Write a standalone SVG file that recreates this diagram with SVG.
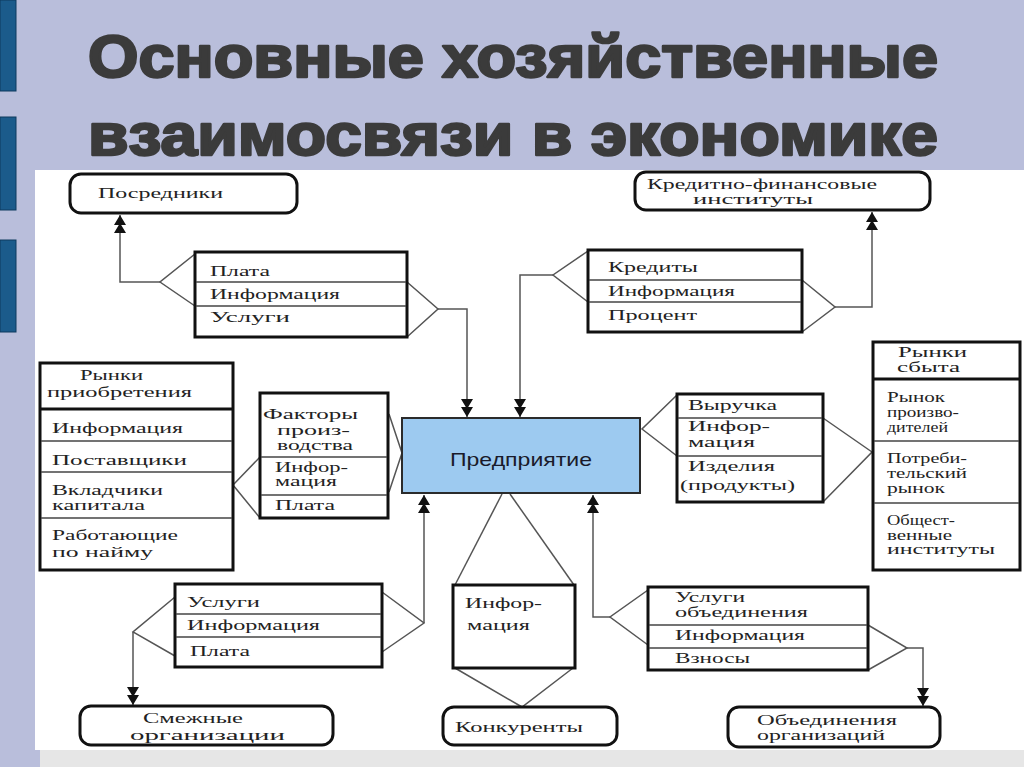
<svg xmlns="http://www.w3.org/2000/svg" width="1024" height="767" viewBox="0 0 1024 767">
<style>
.t{font-family:"Liberation Serif","DejaVu Serif",serif;font-size:15px;fill:#222;}
.tbl{fill:#fff;stroke:#111;stroke-width:3;}
.rnd{fill:#fff;stroke:#111;stroke-width:3;}
.row{stroke:#444;stroke-width:1.5;fill:none;}
.hdr{stroke:#111;stroke-width:3;fill:none;}
.c{stroke:#555;stroke-width:1.5;fill:none;}
.title{font-family:"Liberation Sans","Arial",sans-serif;font-weight:bold;font-size:60px;fill:#3b3b3b;stroke:#3b3b3b;stroke-width:2.5;stroke-linejoin:round;}
</style>
<defs>
<marker id="arr" markerUnits="userSpaceOnUse" markerWidth="20" markerHeight="14" refX="18" refY="7" orient="auto">
<path d="M0,1 L10,7 L0,13 Z M8,1 L18,7 L8,13 Z" fill="#111"/>
</marker>
</defs>
<rect x="0" y="0" width="1024" height="767" fill="#b9bedb"/>
<rect x="0" y="0" width="16" height="91" fill="#1b5b8b" stroke="#0e3a5e" stroke-width="1"/>
<rect x="0" y="117" width="16" height="93" fill="#1b5b8b" stroke="#0e3a5e" stroke-width="1"/>
<rect x="0" y="240" width="16" height="92" fill="#1b5b8b" stroke="#0e3a5e" stroke-width="1"/>
<rect x="35" y="170" width="989" height="580" fill="#fff"/>
<rect x="40" y="750" width="984" height="17" fill="#e6e6e6"/>
<g id="title">
<text class="title" x="88" y="77" textLength="850" lengthAdjust="spacingAndGlyphs">Основные хозяйственные</text>
<text class="title" x="88" y="155" textLength="850" lengthAdjust="spacingAndGlyphs">взаимосвязи в экономике</text>
</g>
<g id="connectors">
<polyline class="c" points="195,254 160,282 195,306"/>
<path class="c" d="M160,282 H120 V215" marker-end="url(#arr)"/>
<polyline class="c" points="407,282 438,309 407,337"/>
<path class="c" d="M438,309 H467 V417" marker-end="url(#arr)"/>
<polyline class="c" points="588,251 553,275 588,302"/>
<path class="c" d="M553,275 H520 V417" marker-end="url(#arr)"/>
<polyline class="c" points="802,280 835,307 802,332"/>
<path class="c" d="M835,307 H872 V212" marker-end="url(#arr)"/>
<polyline class="c" points="260,457 233,485 260,518"/>
<polyline class="c" points="389,414 402,453 389,492"/>
<polyline class="c" points="677,395 642,429 677,456"/>
<polyline class="c" points="823,418 872,452 823,502"/>
<polyline class="c" points="175,597 133,632 175,656"/>
<path class="c" d="M133,632 V705" marker-end="url(#arr)"/>
<polyline class="c" points="382,592 424,623 382,652"/>
<path class="c" d="M424,623 V495" marker-end="url(#arr)"/>
<line class="c" x1="502" y1="494" x2="455" y2="585"/>
<line class="c" x1="510" y1="494" x2="574" y2="585"/>
<polyline class="c" points="455,668 522,707 573,668"/>
<polyline class="c" points="648,590 610,617 648,645"/>
<path class="c" d="M610,617 H593 V495" marker-end="url(#arr)"/>
<polyline class="c" points="868,625 907,648 868,670"/>
<path class="c" d="M907,648 H923 V706" marker-end="url(#arr)"/>
</g>
<g id="posredniki">
<rect class="rnd" x="70" y="174" width="227" height="39" rx="11"/>
<text class="t" x="98" y="198" textLength="125" lengthAdjust="spacingAndGlyphs">Посредники</text>
</g>
<g id="kredit-inst">
<rect class="rnd" x="635" y="172" width="295" height="38" rx="11"/>
<text class="t" x="647" y="189" textLength="230" lengthAdjust="spacingAndGlyphs">Кредитно-финансовые</text>
<text class="t" x="693" y="204" textLength="120" lengthAdjust="spacingAndGlyphs">институты</text>
</g>
<g id="tbl-plata">
<rect class="tbl" x="195" y="252" width="212" height="85"/>
<line class="row" x1="196" y1="282" x2="406" y2="282"/>
<line class="row" x1="196" y1="306" x2="406" y2="306"/>
<text class="t" x="210" y="276" textLength="60" lengthAdjust="spacingAndGlyphs">Плата</text>
<text class="t" x="210" y="299" textLength="130" lengthAdjust="spacingAndGlyphs">Информация</text>
<text class="t" x="210" y="322" textLength="80" lengthAdjust="spacingAndGlyphs">Услуги</text>
</g>
<g id="tbl-kredity">
<rect class="tbl" x="588" y="250" width="214" height="82"/>
<line class="row" x1="589" y1="280" x2="801" y2="280"/>
<line class="row" x1="589" y1="302" x2="801" y2="302"/>
<text class="t" x="608" y="272" textLength="90" lengthAdjust="spacingAndGlyphs">Кредиты</text>
<text class="t" x="608" y="296" textLength="127" lengthAdjust="spacingAndGlyphs">Информация</text>
<text class="t" x="608" y="320" textLength="89" lengthAdjust="spacingAndGlyphs">Процент</text>
</g>
<g id="rynki-priobr">
<rect class="tbl" x="40" y="363" width="193" height="207"/>
<line class="hdr" x1="40" y1="409" x2="233" y2="409"/>
<line class="row" x1="41" y1="441" x2="232" y2="441"/>
<line class="row" x1="41" y1="472" x2="232" y2="472"/>
<line class="row" x1="41" y1="518" x2="232" y2="518"/>
<text class="t" x="80" y="380" textLength="63" lengthAdjust="spacingAndGlyphs">Рынки</text>
<text class="t" x="47" y="397" textLength="145" lengthAdjust="spacingAndGlyphs">приобретения</text>
<text class="t" x="52" y="433" textLength="131" lengthAdjust="spacingAndGlyphs">Информация</text>
<text class="t" x="52" y="465" textLength="135" lengthAdjust="spacingAndGlyphs">Поставщики</text>
<text class="t" x="52" y="495" textLength="111" lengthAdjust="spacingAndGlyphs">Вкладчики</text>
<text class="t" x="52" y="510" textLength="93" lengthAdjust="spacingAndGlyphs">капитала</text>
<text class="t" x="52" y="540" textLength="126" lengthAdjust="spacingAndGlyphs">Работающие</text>
<text class="t" x="52" y="557" textLength="101" lengthAdjust="spacingAndGlyphs">по  найму</text>
</g>
<g id="tbl-faktory">
<rect class="tbl" x="260" y="393" width="128" height="125"/>
<line class="row" x1="261" y1="457" x2="387" y2="457"/>
<line class="row" x1="261" y1="495" x2="387" y2="495"/>
<text class="t" x="263" y="419" textLength="95" lengthAdjust="spacingAndGlyphs">Факторы</text>
<text class="t" x="277" y="435" textLength="73" lengthAdjust="spacingAndGlyphs">произ-</text>
<text class="t" x="277" y="450" textLength="76" lengthAdjust="spacingAndGlyphs">водства</text>
<text class="t" x="275" y="472" textLength="73" lengthAdjust="spacingAndGlyphs">Инфор-</text>
<text class="t" x="275" y="486" textLength="62" lengthAdjust="spacingAndGlyphs">мация</text>
<text class="t" x="275" y="510" textLength="60" lengthAdjust="spacingAndGlyphs">Плата</text>
</g>
<g id="predpriyatie">
<rect x="402" y="418" width="238" height="75" fill="#9dcaf0" stroke="#2b2b2b" stroke-width="2"/>
<text x="450" y="466" textLength="142" lengthAdjust="spacingAndGlyphs" style="font-family:'Liberation Sans',Arial,sans-serif;font-size:19px;fill:#1a1a2a;">Предприятие</text>
</g>
<g id="tbl-vyruchka">
<rect class="tbl" x="677" y="394" width="146" height="108"/>
<line class="row" x1="678" y1="418" x2="822" y2="418"/>
<line class="row" x1="678" y1="456" x2="822" y2="456"/>
<text class="t" x="688" y="410" textLength="89" lengthAdjust="spacingAndGlyphs">Выручка</text>
<text class="t" x="688" y="431" textLength="82" lengthAdjust="spacingAndGlyphs">Инфор-</text>
<text class="t" x="688" y="447" textLength="67" lengthAdjust="spacingAndGlyphs">мация</text>
<text class="t" x="688" y="471" textLength="87" lengthAdjust="spacingAndGlyphs">Изделия</text>
<text class="t" x="680" y="490" textLength="115" lengthAdjust="spacingAndGlyphs">(продукты)</text>
</g>
<g id="rynki-sbyta">
<rect class="tbl" x="873" y="342" width="147" height="228"/>
<line class="hdr" x1="873" y1="379" x2="1020" y2="379"/>
<line class="row" x1="874" y1="441" x2="1019" y2="441"/>
<line class="row" x1="874" y1="503" x2="1019" y2="503"/>
<text class="t" x="898" y="357" textLength="69" lengthAdjust="spacingAndGlyphs">Рынки</text>
<text class="t" x="897" y="372" textLength="63" lengthAdjust="spacingAndGlyphs">сбыта</text>
<text class="t" x="887" y="402" textLength="58" lengthAdjust="spacingAndGlyphs">Рынок</text>
<text class="t" x="887" y="417" textLength="72" lengthAdjust="spacingAndGlyphs">произво-</text>
<text class="t" x="887" y="432" textLength="61" lengthAdjust="spacingAndGlyphs">дителей</text>
<text class="t" x="887" y="463" textLength="80" lengthAdjust="spacingAndGlyphs">Потреби-</text>
<text class="t" x="887" y="478" textLength="80" lengthAdjust="spacingAndGlyphs">тельский</text>
<text class="t" x="887" y="493" textLength="58" lengthAdjust="spacingAndGlyphs">рынок</text>
<text class="t" x="887" y="525" textLength="68" lengthAdjust="spacingAndGlyphs">Общест-</text>
<text class="t" x="887" y="540" textLength="65" lengthAdjust="spacingAndGlyphs">венные</text>
<text class="t" x="887" y="554" textLength="108" lengthAdjust="spacingAndGlyphs">институты</text>
</g>
<g id="tbl-uslugi">
<rect class="tbl" x="175" y="584" width="207" height="83"/>
<line class="row" x1="176" y1="614" x2="381" y2="614"/>
<line class="row" x1="176" y1="637" x2="381" y2="637"/>
<text class="t" x="187" y="607" textLength="73" lengthAdjust="spacingAndGlyphs">Услуги</text>
<text class="t" x="187" y="630" textLength="133" lengthAdjust="spacingAndGlyphs">Информация</text>
<text class="t" x="190" y="656" textLength="60" lengthAdjust="spacingAndGlyphs">Плата</text>
</g>
<g id="tbl-informaciya">
<rect class="tbl" x="453" y="585" width="122" height="83"/>
<text class="t" x="465" y="608" textLength="77" lengthAdjust="spacingAndGlyphs">Инфор-</text>
<text class="t" x="467" y="630" textLength="63" lengthAdjust="spacingAndGlyphs">мация</text>
</g>
<g id="tbl-uslugi-ob">
<rect class="tbl" x="648" y="587" width="220" height="83"/>
<line class="row" x1="649" y1="625" x2="867" y2="625"/>
<line class="row" x1="649" y1="648" x2="867" y2="648"/>
<text class="t" x="675" y="602" textLength="70" lengthAdjust="spacingAndGlyphs">Услуги</text>
<text class="t" x="675" y="617" textLength="133" lengthAdjust="spacingAndGlyphs">объединения</text>
<text class="t" x="675" y="640" textLength="130" lengthAdjust="spacingAndGlyphs">Информация</text>
<text class="t" x="675" y="663" textLength="75" lengthAdjust="spacingAndGlyphs">Взносы</text>
</g>
<g id="smezhnye">
<rect class="rnd" x="80" y="706" width="253" height="39" rx="11"/>
<text class="t" x="143" y="723" textLength="100" lengthAdjust="spacingAndGlyphs">Смежные</text>
<text class="t" x="130" y="740" textLength="155" lengthAdjust="spacingAndGlyphs">организации</text>
</g>
<g id="konkurenty">
<rect class="rnd" x="443" y="707" width="174" height="38" rx="11"/>
<text class="t" x="455" y="732" textLength="128" lengthAdjust="spacingAndGlyphs">Конкуренты</text>
</g>
<g id="obedineniya">
<rect class="rnd" x="728" y="707" width="212" height="40" rx="11"/>
<text class="t" x="757" y="725" textLength="140" lengthAdjust="spacingAndGlyphs">Объединения</text>
<text class="t" x="757" y="740" textLength="128" lengthAdjust="spacingAndGlyphs">организаций</text>
</g>
</svg>
